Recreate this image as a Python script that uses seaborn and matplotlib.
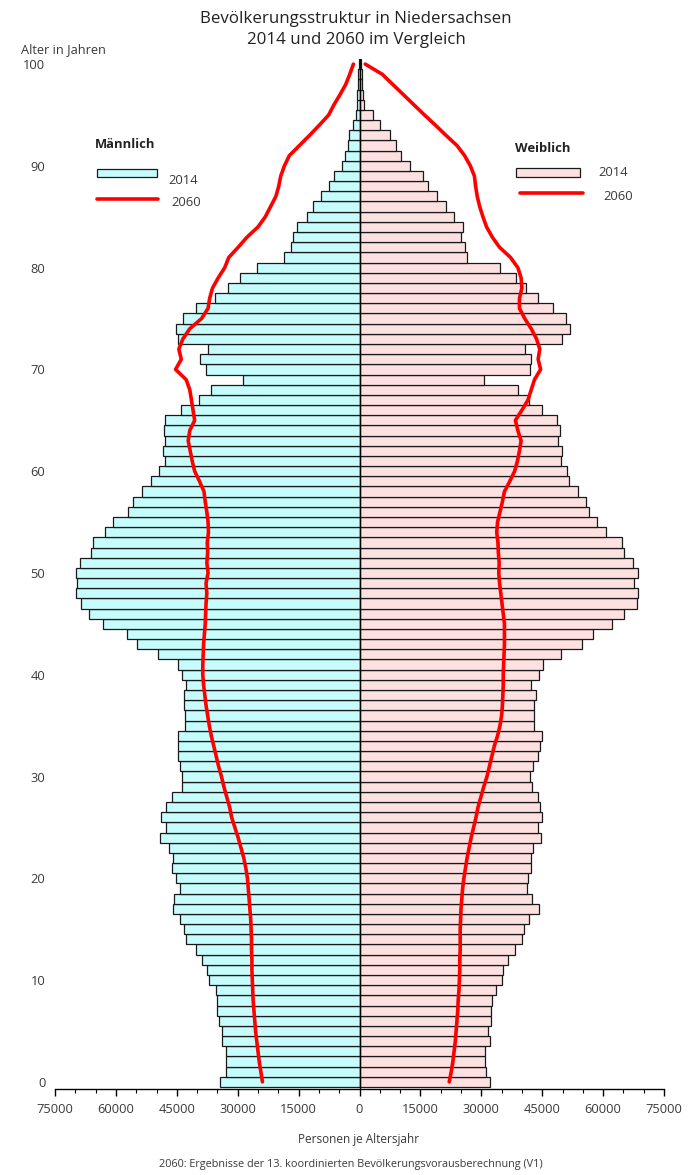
import numpy as np
import pandas as pd
import matplotlib
matplotlib.use("Agg")
import matplotlib.pyplot as plt
from matplotlib.patches import Rectangle
from matplotlib.lines import Line2D
import seaborn as sns

# ---------------- data ----------------
ages = list(range(0, 101))

male_2014 = [34.3, 32.9, 32.9, 32.9, 33.8, 33.8, 34.5, 35.1, 35.1, 35.4,
             37.0, 37.6, 38.9, 40.3, 42.7, 43.2, 44.3, 46.0, 45.6, 44.1,
             45.1, 46.3, 46.0, 46.8, 49.2, 47.6, 49.0, 47.6, 46.2, 43.8,
             43.8, 44.3, 44.7, 44.7, 44.7, 43.1, 43.1, 43.3, 43.3, 42.7,
             43.8, 44.6, 49.6, 54.7, 57.2, 63.1, 66.7, 68.5, 69.9, 69.7,
             69.9, 68.8, 66.1, 65.6, 62.6, 60.7, 57.1, 55.8, 53.6, 51.3,
             49.5, 47.8, 48.3, 47.8, 48.2, 47.8, 43.9, 39.6, 36.6, 28.6,
             37.9, 39.2, 37.3, 44.7, 45.3, 43.5, 40.2, 35.6, 32.5, 29.5,
             25.3, 18.6, 16.9, 16.3, 15.4, 13.0, 11.4, 9.6, 7.5, 6.3,
             4.4, 3.5, 2.9, 2.5, 1.7, 0.9, 0.7, 0.5, 0.35, 0.25,
             0.15]

female_2014 = [32.1, 31.2, 31.0, 30.9, 32.1, 31.7, 32.5, 32.5, 32.7, 33.6,
               35.2, 35.4, 36.6, 38.2, 40.1, 40.4, 41.7, 44.1, 42.6, 41.2,
               41.4, 42.3, 42.3, 42.8, 44.7, 43.9, 44.9, 44.4, 43.9, 42.5,
               42.1, 42.8, 44.0, 44.4, 44.9, 42.9, 42.9, 42.9, 43.5, 42.3,
               44.3, 45.3, 49.7, 54.8, 57.5, 62.2, 65.1, 68.4, 68.6, 67.5,
               68.6, 67.3, 65.1, 64.6, 60.6, 58.6, 56.6, 55.9, 53.7, 51.5,
               51.2, 49.7, 49.9, 49.0, 49.3, 48.6, 45.0, 41.7, 39.0, 30.6,
               41.9, 42.3, 40.8, 49.9, 51.9, 50.8, 47.7, 44.0, 41.1, 38.6,
               34.5, 26.6, 26.0, 24.9, 25.6, 23.3, 21.4, 19.0, 16.8, 15.7,
               12.5, 10.2, 8.9, 7.4, 5.1, 3.3, 1.0, 0.75, 0.7, 0.6,
               0.4]

male_2060 = [23.9, 24.3, 24.7, 25.0, 25.3, 25.6, 25.8, 26.0, 26.2, 26.3,
             26.4, 26.5, 26.5, 26.6, 26.6, 26.7, 26.8, 27.0, 27.2, 27.4,
             27.6, 28.0, 28.5, 29.2, 29.9, 30.7, 31.5, 32.0, 32.7, 33.4,
             34.0, 34.7, 35.3, 35.9, 36.5, 37.0, 37.4, 37.8, 38.1, 38.4,
             38.6, 38.6, 38.5, 38.4, 38.2, 38.0, 37.9, 37.8, 37.6, 37.8,
             37.3, 37.6, 37.4, 37.5, 37.2, 37.3, 37.6, 38.0, 38.3, 39.4,
             40.6, 41.2, 41.7, 42.2, 41.8, 40.6, 41.0, 41.4, 41.8, 42.7,
             45.3, 43.9, 44.5, 43.5, 41.8, 38.9, 37.3, 36.9, 36.2, 34.8,
             33.2, 32.2, 29.9, 27.7, 25.0, 23.2, 21.9, 20.6, 19.9, 19.4,
             18.5, 17.3, 14.8, 12.3, 9.9, 7.6, 6.3, 4.8, 3.4, 2.4,
             1.5]

female_2060 = [22.1, 22.6, 23.0, 23.3, 23.6, 23.8, 24.0, 24.2, 24.3, 24.5,
               24.6, 24.7, 24.7, 24.8, 24.8, 24.8, 24.9, 25.0, 25.2, 25.4,
               25.7, 26.1, 26.5, 27.0, 27.5, 28.1, 28.7, 29.2, 29.9, 30.6,
               31.4, 32.0, 32.6, 33.2, 34.0, 34.6, 35.0, 35.2, 35.3, 35.4,
               35.4, 35.5, 35.6, 35.7, 35.7, 35.7, 35.4, 35.1, 34.8, 34.5,
               34.3, 34.4, 34.2, 34.1, 33.8, 34.0, 34.6, 35.2, 35.7, 37.0,
               38.2, 38.9, 39.4, 39.8, 39.0, 38.4, 40.0, 41.5, 42.3, 43.1,
               44.6, 44.0, 44.4, 43.6, 42.3, 40.7, 39.4, 39.4, 40.0, 39.8,
               39.0, 37.2, 34.5, 32.7, 31.3, 30.4, 29.6, 29.0, 28.6, 28.3,
               27.3, 25.9, 24.0, 21.3, 18.7, 16.0, 13.4, 10.8, 8.2, 5.6,
               1.4]

x_ticks = [-75000, -60000, -45000, -30000, -15000, 0, 15000, 30000, 45000, 60000, 75000]
x_tick_labels = ["75000", "60000", "45000", "30000", "15000", "0",
                 "15000", "30000", "45000", "60000", "75000"]
y_ticks = [0, 10, 20, 30, 40, 50, 60, 70, 80, 90, 100]

title_lines = ["Bevölkerungsstruktur in Niedersachsen", "2014 und 2060 im Vergleich"]

df = pd.DataFrame({
    "age": ages,
    "m14": [-v * 1000 for v in male_2014],
    "f14": [v * 1000 for v in female_2014],
    "m60": [-v * 1000 for v in male_2060],
    "f60": [v * 1000 for v in female_2060],
})

# ---------------- style ----------------
sns.set_style("white")
plt.rcParams["font.family"] = ["Open Sans", "DejaVu Sans"]

W, H = 693, 1175
fig = plt.figure(figsize=(W / 100, H / 100), dpi=100)

def fx(px):
    return px / W

def fy(py):
    return 1 - py / H

ax_left, ax_right, ax_top, ax_bottom = 55, 664, 59, 1089
ax = fig.add_axes([fx(ax_left), fy(ax_bottom), (ax_right - ax_left) / W, (ax_bottom - ax_top) / H])

male_fill = "#C6FCFC"
female_fill = "#FDE0E0"
edge = "#1a1a1a"
txt = "#3a3a3a"

sns.barplot(data=df, x="m14", y="age", orient="y", native_scale=True, width=1.0,
            color=male_fill, edgecolor=edge, linewidth=0.9, errorbar=None,
            saturation=1, ax=ax)
sns.barplot(data=df, x="f14", y="age", orient="y", native_scale=True, width=1.0,
            color=female_fill, edgecolor=edge, linewidth=0.9, errorbar=None,
            saturation=1, ax=ax)

ax.axvline(0, color="black", lw=1.0, zorder=3)

sns.lineplot(data=df, x="m60", y="age", orient="y", sort=False, estimator=None,
             color="#FF0000", lw=2.6, ax=ax, zorder=4)
sns.lineplot(data=df, x="f60", y="age", orient="y", sort=False, estimator=None,
             color="#FF0000", lw=2.6, ax=ax, zorder=4)

ax.set_xlim(-75000, 75000)
ax.set_ylim(-0.7, 100.5)

for s in ["left", "top", "right"]:
    ax.spines[s].set_visible(False)
ax.spines["bottom"].set_color("black")
ax.spines["bottom"].set_linewidth(1.0)

ax.set_xticks(x_ticks)
ax.set_xticklabels(x_tick_labels)
ax.set_xticks(np.arange(-75000, 75001, 5000), minor=True)
ax.tick_params(axis="x", which="major", direction="out", length=5, width=1.0,
               color="black", labelsize=9.3, labelcolor=txt, pad=5, bottom=True)
ax.tick_params(axis="x", which="minor", direction="out", length=3, width=0.8,
               color="black", bottom=True)

ax.set_yticks(y_ticks)
ax.set_yticklabels([str(v) for v in y_ticks])
ax.tick_params(axis="y", which="both", length=0, labelsize=9.3, labelcolor=txt, pad=7)

ax.set_xlabel("")
ax.set_ylabel("")
ax.grid(False)

# ---------------- texts ----------------
fig.text(fx(356), fy(19), title_lines[0], ha="center", va="center", fontsize=12.2, color="#222222")
fig.text(fx(356), fy(40), title_lines[1], ha="center", va="center", fontsize=12.2, color="#222222")
fig.text(fx(21), fy(50), "Alter in Jahren", ha="left", va="center", fontsize=9.2, color=txt)

fig.text(fx(359), fy(1140), "Personen je Altersjahr", ha="center", va="center",
         fontsize=8.5, color=txt)
fig.text(fx(351), fy(1164), "2060: Ergebnisse der 13. koordinierten Bevölkerungsvorausberechnung (V1)",
         ha="center", va="center", fontsize=7.8, color=txt)

# ---------------- legends ----------------
fig.text(fx(95), fy(144), "Männlich", ha="left", va="center", fontsize=9.4, fontweight="bold", color="#222222")
fig.patches.append(Rectangle((fx(97), fy(177)), fx(157) - fx(97), fy(169) - fy(177),
                             transform=fig.transFigure, facecolor=male_fill, edgecolor=edge, lw=0.9))
fig.text(fx(168), fy(180), "2014", ha="left", va="center", fontsize=9.4, color=txt)
fig.lines.append(Line2D([fx(97), fx(158)], [fy(199), fy(199)], transform=fig.transFigure,
                        color="#FF0000", lw=2.6))
fig.text(fx(171), fy(202), "2060", ha="left", va="center", fontsize=9.4, color=txt)

fig.text(fx(515), fy(148), "Weiblich", ha="left", va="center", fontsize=9.4, fontweight="bold", color="#222222")
fig.patches.append(Rectangle((fx(516), fy(177)), fx(580) - fx(516), fy(168) - fy(177),
                             transform=fig.transFigure, facecolor=female_fill, edgecolor=edge, lw=0.9))
fig.text(fx(598), fy(172), "2014", ha="left", va="center", fontsize=9.4, color=txt)
fig.lines.append(Line2D([fx(520), fx(583)], [fy(193), fy(193)], transform=fig.transFigure,
                        color="#FF0000", lw=2.6))
fig.text(fx(603), fy(196), "2060", ha="left", va="center", fontsize=9.4, color=txt)

fig.savefig("out.png", dpi=100)
